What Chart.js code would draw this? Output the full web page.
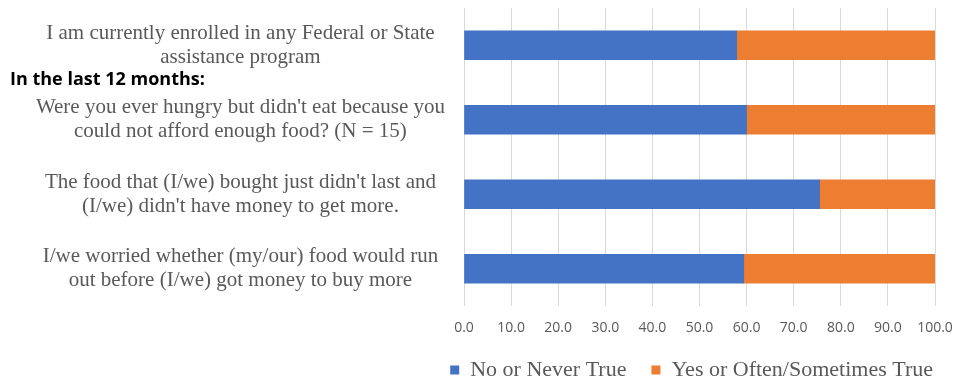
<!DOCTYPE html>
<html>
<head>
<meta charset="utf-8">
<script src="https://cdn.jsdelivr.net/npm/chart.js@4/dist/chart.umd.min.js"></script>
<style>
  html, body { margin: 0; padding: 0; background: #ffffff; }
  #wrap { width: 958px; height: 382px; position: relative; }
</style>
</head>
<body>
<div id="wrap"><canvas id="c" width="958" height="382"></canvas></div>
<script>
const categories = [
  ["I am currently enrolled in any Federal or State", "assistance program"],
  ["Were you ever hungry but didn't eat because you", "could not afford enough food? (N = 15)"],
  ["The food that (I/we) bought just didn't last and", "(I/we) didn't have money to get more."],
  ["I/we worried whether (my/our) food would run", "out before (I/we) got money to buy more"]
];
const noNeverTrue = [57.9, 60.0, 75.5, 59.4];
const yesOftenTrue = [42.1, 40.0, 24.5, 40.6];
const seriesNames = ["No or Never True", "Yes or Often/Sometimes True"];
const sectionHeading = "In the last 12 months:";
const xTicks = [0, 10, 20, 30, 40, 50, 60, 70, 80, 90, 100];

const headingPlugin = {
  id: 'heading',
  afterDraw(chart) {
    const ctx = chart.ctx;
    ctx.save();
    ctx.font = 'bold 18px "Open Sans", "Liberation Sans", sans-serif';
    ctx.fillStyle = '#000000';
    ctx.textAlign = 'left';
    ctx.textBaseline = 'middle';
    ctx.fillText(sectionHeading, 10, 80);
    ctx.restore();
  }
};

new Chart(document.getElementById('c'), {
  type: 'bar',
  data: {
    labels: categories,
    datasets: [
      { label: seriesNames[0], data: noNeverTrue, backgroundColor: '#4472C4', barThickness: 29 },
      { label: seriesNames[1], data: yesOftenTrue, backgroundColor: '#ED7D31', barThickness: 29 }
    ]
  },
  options: {
    indexAxis: 'y',
    responsive: false,
    animation: false,
    layout: { padding: { top: 8, right: 0, left: 0, bottom: 0 } },
    plugins: {
      legend: {
        position: 'bottom',
        align: 'end',
        maxHeight: 48,
        labels: {
          boxWidth: 9,
          boxHeight: 9,
          color: '#595959',
          padding: 25,
          font: { family: '"Liberation Serif", "Times New Roman", serif', size: 22 }
        }
      },
      tooltip: { enabled: false }
    },
    scales: {
      x: {
        stacked: true,
        min: 0,
        max: 100,
        afterBuildTicks(scale) { scale.ticks = xTicks.map(v => ({ value: v })); },
        afterFit(scale) { scale.paddingLeft = 0; scale.paddingRight = 23; scale.height = 28; },
        grid: { color: '#d9d9d9', drawTicks: false },
        border: { display: false },
        ticks: {
          padding: 14,
          color: '#595959',
          font: { family: '"Open Sans", "Liberation Sans", sans-serif', size: 14 },
          callback: (v) => Number(v).toFixed(1)
        }
      },
      y: {
        stacked: true,
        grid: { display: false },
        border: { display: false },
        afterFit(scale) { scale.width = 464; scale.paddingTop = 0; scale.paddingBottom = 0; },
        ticks: {
          crossAlign: 'center',
          padding: 11,
          color: '#595959',
          font: { family: '"Liberation Serif", "Times New Roman", serif', size: 21, lineHeight: 1.14 }
        }
      }
    }
  },
  plugins: [headingPlugin]
});
</script>
</body>
</html>
